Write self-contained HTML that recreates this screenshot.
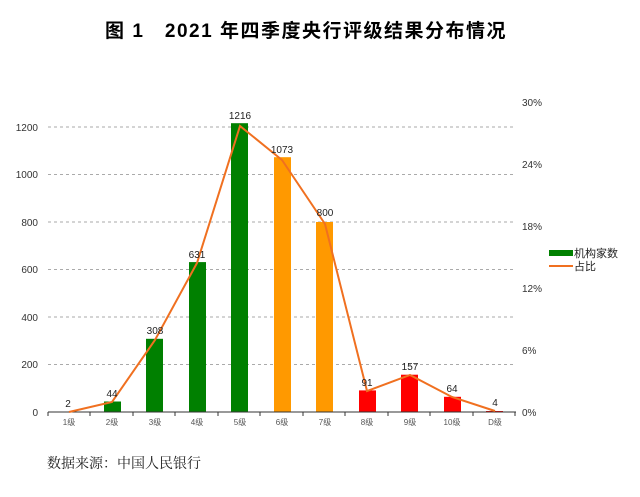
<!DOCTYPE html>
<html><head><meta charset="utf-8"><style>
body{margin:0;background:#fff;width:640px;height:492px;overflow:hidden;font-family:"Liberation Sans","Noto Sans CJK SC",sans-serif}
</style></head><body>
<svg width="640" height="492" xmlns="http://www.w3.org/2000/svg" font-family="Liberation Sans, Noto Sans CJK SC, sans-serif">
<text x="306" y="37" text-anchor="middle" font-size="19" letter-spacing="1.5" font-weight="bold" fill="#000">图 1　2021 年四季度央行评级结果分布情况</text>
<g stroke="#aaa" stroke-dasharray="3,3" stroke-width="1">
<line x1="48" x2="515" y1="127" y2="127"/><line x1="48" x2="515" y1="174.5" y2="174.5"/>
<line x1="48" x2="515" y1="222" y2="222"/><line x1="48" x2="515" y1="269.5" y2="269.5"/>
<line x1="48" x2="515" y1="317" y2="317"/><line x1="48" x2="515" y1="364.5" y2="364.5"/>
</g>
<g font-size="10" fill="#333" text-anchor="end">
<text x="38" y="131">1200</text><text x="38" y="178">1000</text><text x="38" y="226">800</text>
<text x="38" y="273">600</text><text x="38" y="321">400</text><text x="38" y="368">200</text><text x="38" y="416">0</text>
</g>
<g font-size="10" fill="#333">
<text x="522" y="106">30%</text><text x="522" y="168">24%</text><text x="522" y="230">18%</text>
<text x="522" y="292">12%</text><text x="522" y="354">6%</text><text x="522" y="416">0%</text>
</g>
<g>
<rect x="60" y="411.5" width="17" height="0.5" fill="#008000"/>
<rect x="104" y="401.5" width="17" height="10.5" fill="#008000"/>
<rect x="146" y="338.8" width="17" height="73.2" fill="#008000"/>
<rect x="189" y="262.1" width="17" height="149.9" fill="#008000"/>
<rect x="231" y="123.2" width="17" height="288.8" fill="#008000"/>
<rect x="274" y="157.2" width="17" height="254.8" fill="#FF9900"/>
<rect x="316" y="222" width="17" height="190" fill="#FF9900"/>
<rect x="359" y="390.4" width="17" height="21.6" fill="#FF0000"/>
<rect x="401" y="374.7" width="17" height="37.3" fill="#FF0000"/>
<rect x="444" y="396.8" width="17" height="15.2" fill="#FF0000"/>
<rect x="486" y="411" width="17" height="1" fill="#FF0000"/>
</g>
<line x1="48" x2="516" y1="412" y2="412" stroke="#333"/>
<g stroke="#333"><line x1="48" x2="48" y1="412" y2="416"/><line x1="90" x2="90" y1="412" y2="416"/><line x1="133" x2="133" y1="412" y2="416"/><line x1="175" x2="175" y1="412" y2="416"/><line x1="218" x2="218" y1="412" y2="416"/><line x1="260" x2="260" y1="412" y2="416"/><line x1="303" x2="303" y1="412" y2="416"/><line x1="345" x2="345" y1="412" y2="416"/><line x1="388" x2="388" y1="412" y2="416"/><line x1="430" x2="430" y1="412" y2="416"/><line x1="473" x2="473" y1="412" y2="416"/><line x1="515" x2="515" y1="412" y2="416"/></g>
<polyline fill="none" stroke="#F07020" stroke-width="2" points="69,412 112,402 155,340 197,263 240,126 282,160 325,224 367,391 410,375 452,397 495,411"/>
<g font-size="10" fill="#222" text-anchor="middle">
<text x="68" y="407">2</text><text x="112" y="397">44</text><text x="155" y="334">308</text>
<text x="197" y="258">631</text><text x="240" y="119">1216</text><text x="282" y="153">1073</text>
<text x="325" y="216">800</text><text x="367" y="386">91</text><text x="410" y="370">157</text>
<text x="452" y="392">64</text><text x="495" y="406">4</text>
</g>
<g font-size="8" fill="#555" text-anchor="middle">
<text x="69" y="425">1级</text><text x="112" y="425">2级</text><text x="155" y="425">3级</text>
<text x="197" y="425">4级</text><text x="240" y="425">5级</text><text x="282" y="425">6级</text>
<text x="325" y="425">7级</text><text x="367" y="425">8级</text><text x="410" y="425">9级</text>
<text x="452" y="425">10级</text><text x="495" y="425">D级</text>
</g>
<rect x="549" y="250" width="24" height="6" fill="#008000"/>
<line x1="549" x2="573" y1="266" y2="266" stroke="#F07020" stroke-width="2"/>
<g font-size="11" fill="#222"><text x="574" y="257">机构家数</text><text x="574" y="270">占比</text></g>
<text x="47" y="468" font-size="14" fill="#222" font-family="Liberation Serif, Noto Serif CJK SC, serif">数据来源：中国人民银行</text>
</svg>
</body></html>
